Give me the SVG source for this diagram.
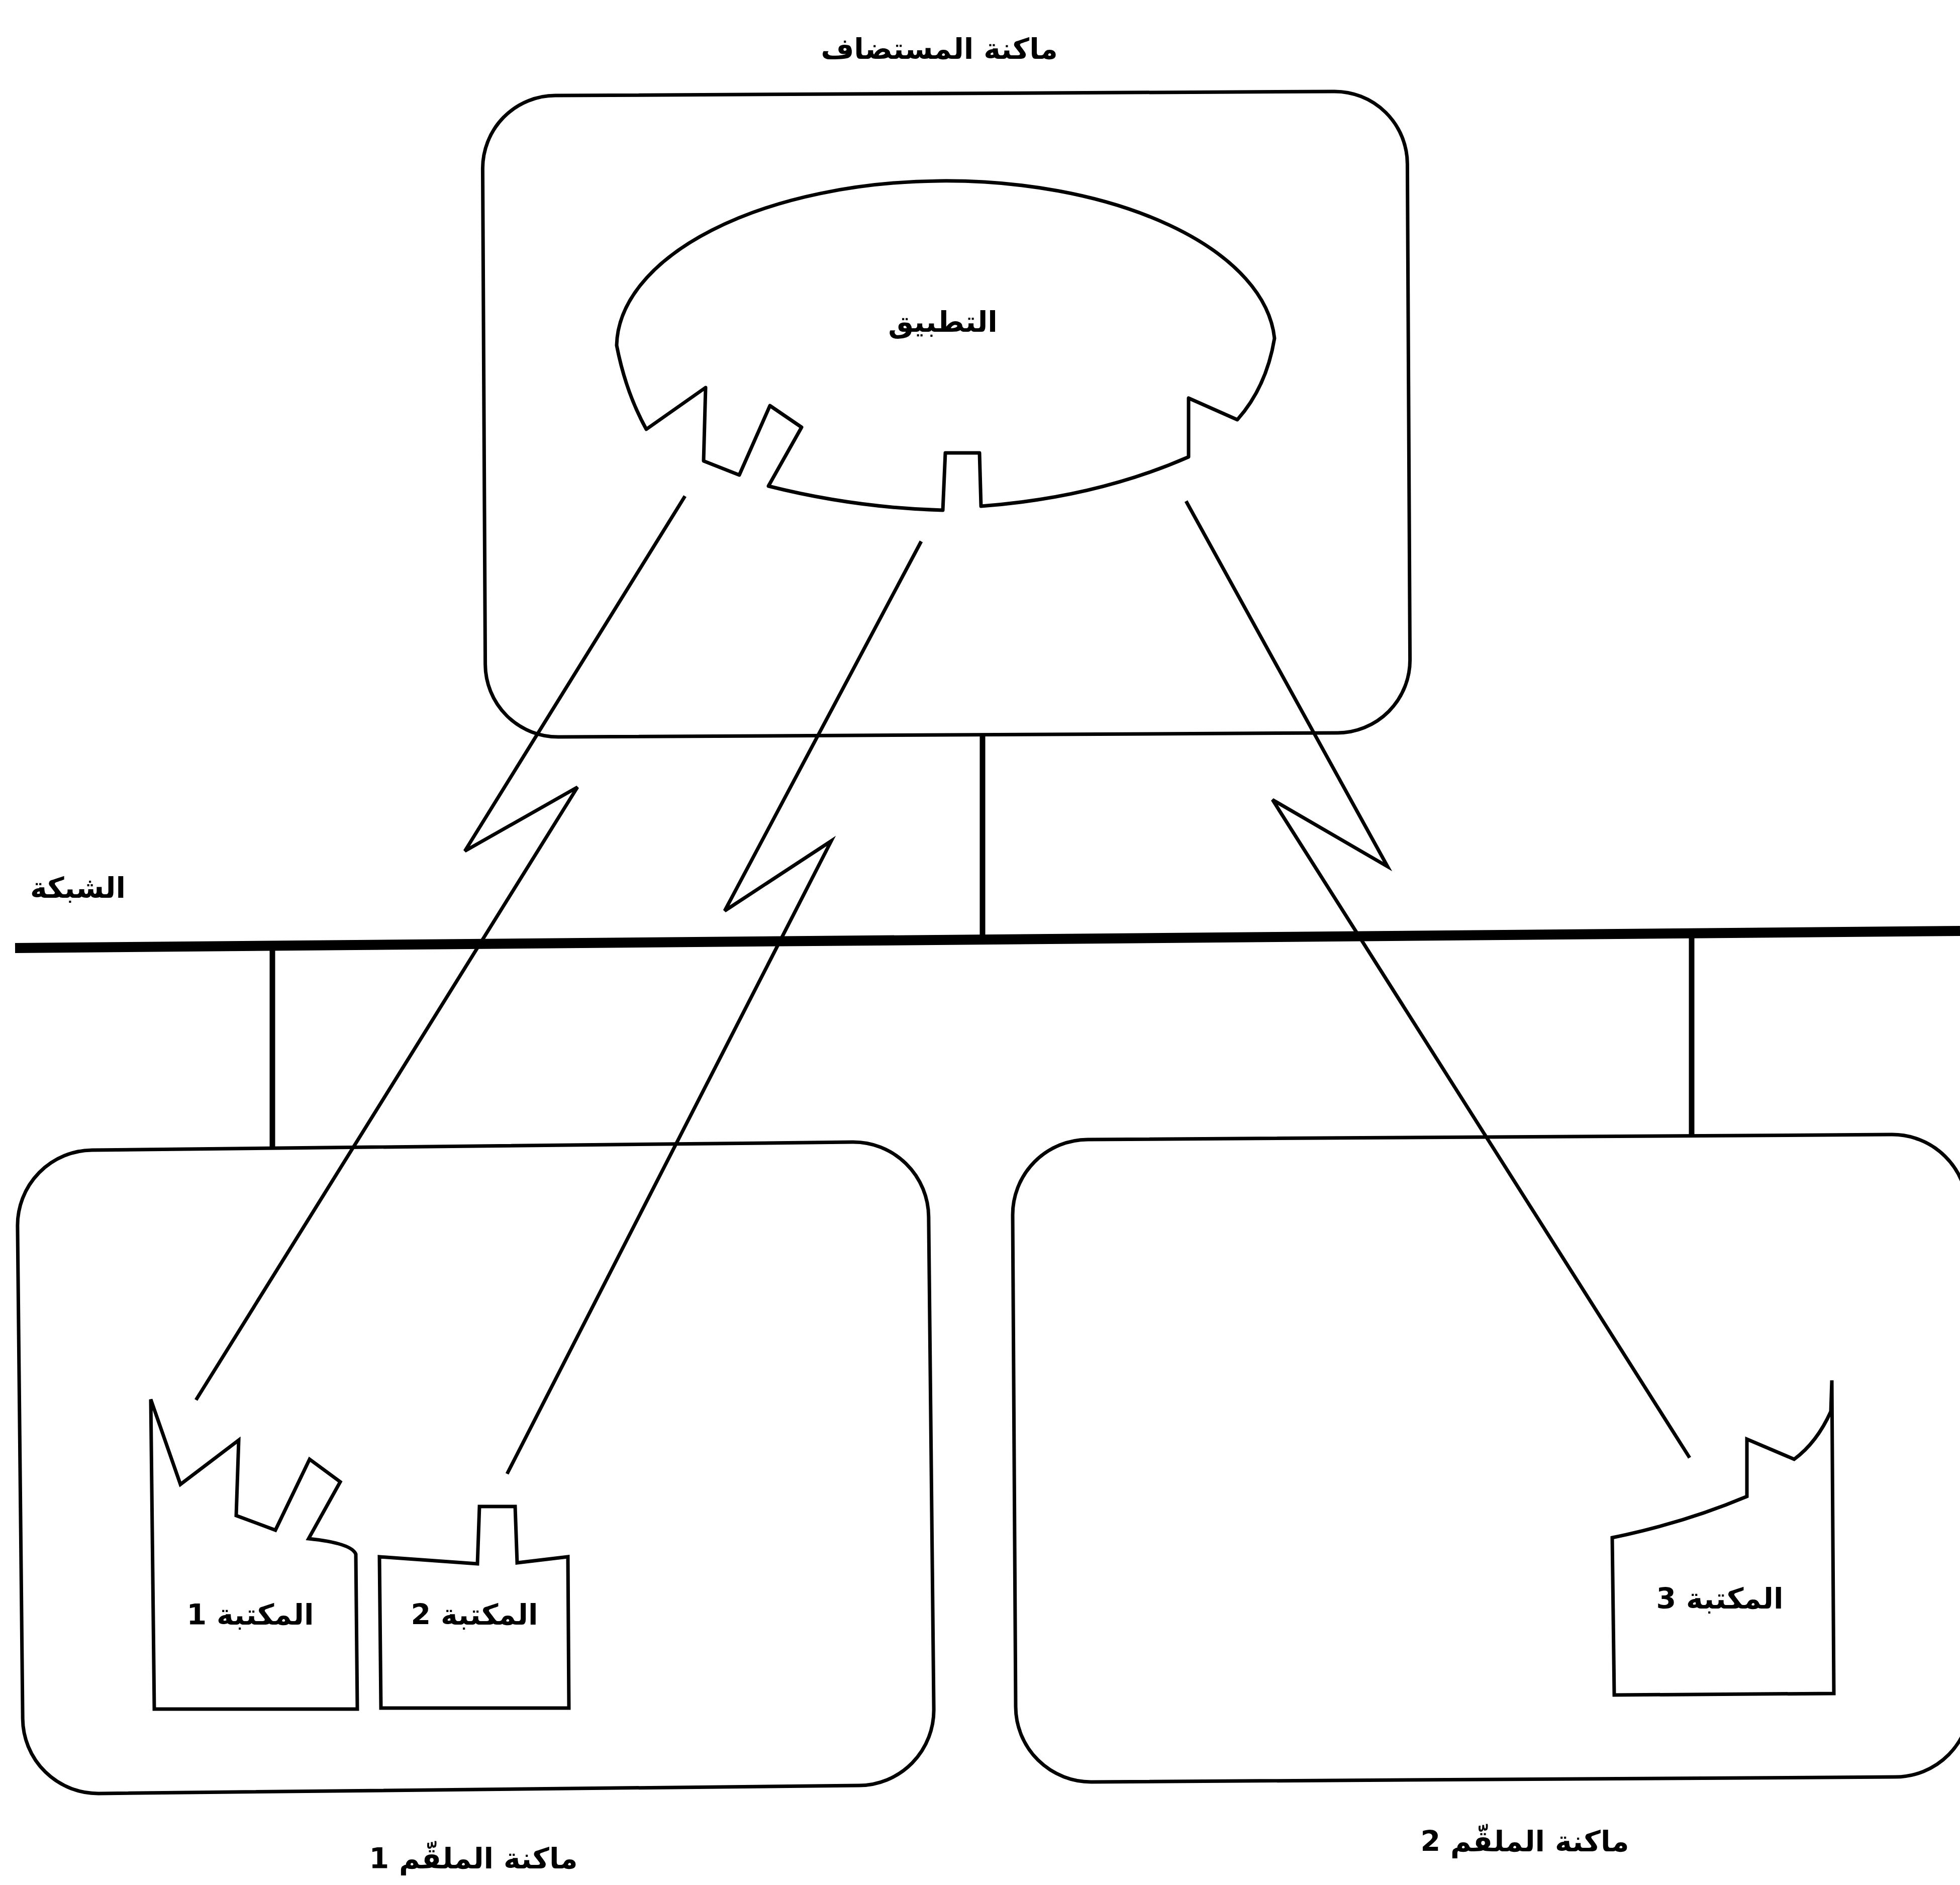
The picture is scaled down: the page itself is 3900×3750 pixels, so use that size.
<svg xmlns="http://www.w3.org/2000/svg" width="3900" height="3750" viewBox="0 0 3900 3750">
<style>
.box{fill:none;stroke:#000;stroke-width:7;stroke-linejoin:round}
.lib{fill:#fff;stroke:#000;stroke-width:7;stroke-linejoin:miter}
.wire{fill:none;stroke:#000;stroke-width:7;stroke-linejoin:miter}
.net{fill:none;stroke:#000;stroke-width:20}
.drop{fill:none;stroke:#000;stroke-width:11}
.t{font-family:"DejaVu Sans",sans-serif;font-size:57px;font-weight:bold;fill:#000;text-anchor:middle;direction:rtl;unicode-bidi:embed}
</style>
<rect width="3900" height="3750" fill="#fff"/>

<g id="host">
<rect class="box" x="963" y="186" width="1840" height="1276" rx="145" transform="rotate(-0.3 1883 824)"/>
<text class="t" x="1869" y="117">ماكنة المستضاف</text>
</g>

<g id="application">
<path class="box" d="M1227,687 A655,331 0 0 1 2536,673 Q2520,770 2462,835 L2365,792 L2365,909 Q2180,990 1952,1007 L1949,901 L1881,901 L1876,1015 Q1700,1010 1529,967 L1595,850 L1532,807 L1471,945 L1400,917 L1404,771 L1286,854 Q1245,780 1227,687 Z"/>
<text class="t" x="1876" y="660">التطبيق</text>
</g>

<g id="network">
<line class="net" x1="30" y1="1886" x2="3900" y2="1852"/>
<text class="t" x="155" y="1786">الشبكة</text>
</g>

<g id="server1">
<rect class="box" x="40" y="2280" width="1813" height="1280" rx="150" transform="rotate(-0.6 946 2920)"/>
<text class="t" x="942" y="3717">ماكنة الملقّم 1</text>
</g>

<g id="server2">
<rect class="box" x="2018" y="2262" width="1900" height="1278" rx="150" transform="rotate(-0.35 2968 2901)"/>
<text class="t" x="3034" y="3683">ماكنة الملقّم 2</text>
</g>

<g id="lib1">
<path class="lib" d="M300,2784 L307,3400 L711,3400 L708,3092 Q700,3070 614,3061 L677,2948 L616,2903 L548,3044 L470,3015 L475,2865 L359,2953 Z"/>
<text class="t" x="498" y="3232">المكتبة 1</text>
</g>

<g id="lib2">
<path class="lib" d="M755,3097 L758,3398 L1132,3398 L1130,3097 L1029,3109 L1025,2997 L954,2997 L950,3111 Z"/>
<text class="t" x="944" y="3232">المكتبة 2</text>
</g>

<g id="lib3">
<path class="lib" d="M3208,3059 L3212,3372 L3649,3369 L3645,2746 L3643,2808 Q3615,2870 3570,2903 L3476,2863 L3476,2977 Q3350,3030 3208,3059 Z"/>
<text class="t" x="3422" y="3200">المكتبة 3</text>
</g>

<g id="connectors">
<line class="drop" x1="1955" y1="1462" x2="1955" y2="1862"/>
<line class="drop" x1="542" y1="1888" x2="542" y2="2286"/>
<line class="drop" x1="3366" y1="1858" x2="3366" y2="2262"/>
<path class="wire" d="M1363,987 L925,1693 L1149,1566 L390,2785"/>
<path class="wire" d="M1833,1077 L1442,1812 L1654,1673 L1009,2932"/>
<path class="wire" d="M2360,997 L2761,1724 L2532,1591 L3362,2900"/>
</g>
</svg>
